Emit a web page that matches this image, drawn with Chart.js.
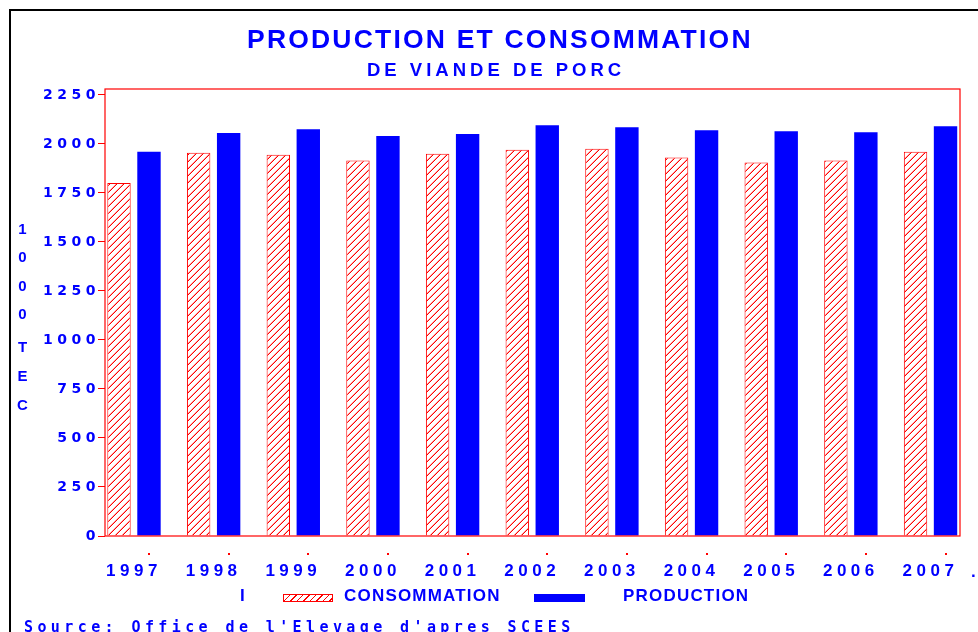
<!DOCTYPE html>
<html><head><meta charset="utf-8">
<script src="https://cdn.jsdelivr.net/npm/chart.js@4/dist/chart.umd.min.js"></script>
<style>
html,body{margin:0;padding:0;background:#fff;width:978px;height:632px;overflow:hidden;}
#wrap{position:relative;width:978px;height:632px;overflow:hidden;}
#frame{position:absolute;left:9px;top:9px;width:1000px;height:700px;border-top:2px solid #000;border-left:2px solid #000;}
canvas{position:absolute;left:0;top:0;}
.t{position:absolute;color:#0000ff;font-family:"Liberation Sans",Arial,sans-serif;font-weight:bold;white-space:nowrap;line-height:1;}
#title{left:247px;top:25.5px;font-size:26.5px;letter-spacing:2.2px;}
#subtitle{left:367px;top:60.5px;font-size:18.5px;letter-spacing:4px;}
.ytitle{writing-mode:vertical-lr;text-orientation:upright;font-size:15px;letter-spacing:11.3px;left:15px;}
#yt1{top:220px;}
#yt2{top:338px;letter-spacing:12px;}
.leg{top:587px;font-size:17px;letter-spacing:1.2px;}
.sw{position:absolute;top:594px;height:8px;box-sizing:border-box;}
#sw1{left:283px;width:50px;border:1px solid #ff0000;background:repeating-linear-gradient(135deg,#fff 0 3.6px,#ff0000 3.6px 4.6px);}
#sw2{left:534px;width:51px;background:#0000ff;}
#source{left:24px;top:620px;font-family:"DejaVu Sans Mono",monospace;font-size:15px;letter-spacing:4.4px;}
</style>
</head><body>
<div id="wrap">
<div id="frame"></div>
<canvas id="c" width="978" height="632"></canvas>
<div class="t" id="title">PRODUCTION ET CONSOMMATION</div>
<div class="t" id="subtitle">DE VIANDE DE PORC</div>
<div class="t ytitle" id="yt1">1000</div>
<div class="t ytitle" id="yt2">TEC</div>
<div class="t leg" style="left:240px;">I</div>
<div class="sw" id="sw1"></div>
<div class="t leg" style="left:344px;">CONSOMMATION</div>
<div class="sw" id="sw2"></div>
<div class="t leg" style="left:623px;">PRODUCTION</div>
<div class="t" style="left:971px;top:563px;font-size:17px;">.</div>
<div class="t" id="source">Source:  Office de l'Elevage d'apres SCEES</div>
</div>
<script>
// ---- data ----
const years = ['1997','1998','1999','2000','2001','2002','2003','2004','2005','2006','2007'];
const consommation = [1800, 1955, 1945, 1915, 1950, 1970, 1975, 1930, 1905, 1915, 1960];
const production   = [1960, 2055, 2075, 2040, 2050, 2095, 2085, 2070, 2065, 2060, 2090];
const yTickValues  = [0, 250, 500, 750, 1000, 1250, 1500, 1750, 2000, 2250];
const seriesNames  = ['CONSOMMATION', 'PRODUCTION'];

function hatch(){
  const s = 7;
  const c = document.createElement('canvas'); c.width = s; c.height = s;
  const g = c.getContext('2d');
  g.fillStyle = '#fff'; g.fillRect(0,0,s,s);
  g.fillStyle = '#ff0000';
  for (let i = 0; i < s; i++) g.fillRect(i, s - 1 - i, 1, 1);
  g.fillStyle = 'rgba(255,0,0,0.35)';
  for (let i = 0; i < s; i++) g.fillRect(i, (2*s - 2 - i) % s, 1, 1);
  return g.createPattern(c, 'repeat');
}

const deco = {
  id: 'deco',
  beforeDraw(chart){ chart.ctx.letterSpacing = '4.5px'; },
  afterDraw(chart){
    const {ctx, chartArea: a} = chart;
    ctx.save();
    ctx.strokeStyle = '#ff0000'; ctx.lineWidth = 1.2;
    ctx.strokeRect(a.left, a.top, a.right - a.left, a.bottom - a.top);
    ctx.fillStyle = '#ff0000';
    chart.getDatasetMeta(1).data.forEach(bar => {
      ctx.fillRect(Math.round(bar.x) - 1, a.bottom + 17, 2, 2);
    });
    ctx.restore();
  }
};

const blue = '#0000ff';
new Chart(document.getElementById('c'), {
  type: 'bar',
  data: {
    datasets: [
      { label: seriesNames[0], data: consommation.map((v,i)=>({x:i, y:v})),
        backgroundColor: hatch(), borderColor: '#ff0000', borderWidth: 1,
        barPercentage: 0.78, categoryPercentage: 0.753 },
      { label: seriesNames[1], data: production.map((v,i)=>({x:i, y:v})),
        backgroundColor: blue, borderWidth: 0,
        barPercentage: 0.78, categoryPercentage: 0.753 }
    ]
  },
  options: {
    responsive: false, animation: false, devicePixelRatio: 1,
    layout: { padding: { left: 0, right: 18, top: 89, bottom: 50 } },
    plugins: { legend: { display: false }, title: { display: false }, tooltip: { enabled: false } },
    scales: {
      x: {
        type: 'linear', offset: false, min: -0.364, max: 10.37,
        grid: { display: false, drawTicks: false, offset: false },
        border: { display: false },
        afterBuildTicks: s => { s.ticks = years.map((_, i) => ({ value: i })); },
        afterFit: s => { s.height = 46; },
        ticks: {
          color: blue, padding: 25, maxRotation: 0, autoSkip: false,
          font: { family: '"Liberation Sans", Arial, sans-serif', size: 17, weight: 'bold' },
          callback: v => years[v]
        }
      },
      y: {
        min: 0, max: 2280,
        grid: { drawOnChartArea: false, color: '#ff0000', tickLength: 7 },
        border: { display: false },
        afterBuildTicks: s => { s.ticks = yTickValues.map(v => ({ value: v })); },
        afterFit: s => { s.width = 105; },
        ticks: {
          color: blue, padding: -2,
          font: { family: '"DejaVu Sans", sans-serif', size: 14, weight: 'bold' },
          callback: v => String(v)
        }
      }
    }
  },
  plugins: [deco]
});
</script>
</body></html>
